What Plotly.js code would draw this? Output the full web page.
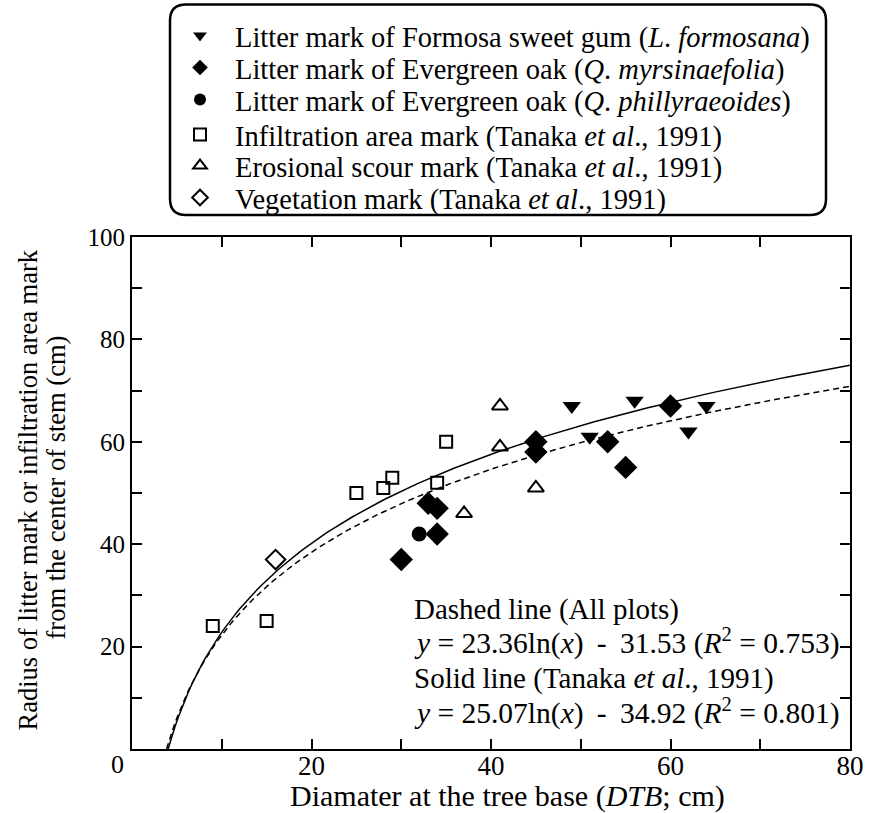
<!DOCTYPE html>
<html>
<head>
<meta charset="utf-8">
<script src="https://cdn.plot.ly/plotly-3.0.1.min.js"></script>
<style>html,body{margin:0;padding:0;background:#fff;}</style>
</head>
<body>
<div id="chart" style="width:869px;height:813px;"></div>
<script>
// ---- Data ----
const formosaX = [49, 51, 56, 62, 64];
const formosaY = [67, 61, 68, 62, 67];

const myrsX = [30, 33, 34, 34, 45, 45, 53, 55, 60];
const myrsY = [37, 48, 47, 42, 60, 58, 60, 55, 67];

const phillX = [32];
const phillY = [42];

const infilX = [9, 15, 25, 28, 29, 34, 35];
const infilY = [24, 25, 50, 51, 53, 52, 60];

const erosX = [37, 41, 41, 45];
const erosY = [46, 67, 59, 51];

const vegX = [16];
const vegY = [37];

// Regression coefficients shown on the chart: y = a ln(x) + b
const dashedA = 23.36, dashedB = -31.53;
const solidA = 25.07, solidB = -34.92;

const xTickVals = [10, 20, 30, 40, 50, 60, 70, 80];
const xTickText = ['', '20', '', '40', '', '60', '', '80'];
const yTickVals = [10, 20, 30, 40, 50, 60, 70, 80, 90, 100];
const yTickText = ['', '20', '', '40', '', '60', '', '80', '', '100'];

// fitted curves from the stated equations
function curve(a, b) {
  const x0 = Math.exp(-b / a);
  const xs = [], ys = [];
  const n = 200;
  for (let i = 0; i <= n; i++) {
    const x = x0 + (80 - x0) * i / n;
    xs.push(x);
    ys.push(a * Math.log(x) + b);
  }
  return {xs, ys};
}
const dc = curve(dashedA, dashedB);
const sc = curve(solidA, solidB);

const FONT = 'Liberation Serif';

const traces = [
  {x: dc.xs, y: dc.ys, mode: 'lines', line: {color: '#000', width: 1.5, dash: '6px,4px'}, showlegend: false, hoverinfo: 'skip'},
  {x: sc.xs, y: sc.ys, mode: 'lines', line: {color: '#000', width: 1.5}, showlegend: false, hoverinfo: 'skip'},
  {x: formosaX, y: formosaY, mode: 'markers', name: 'Litter mark of Formosa sweet gum (<i>L</i>. <i>formosana</i>)',
   legend: 'legend', marker: {symbol: 'triangle-down', size: 16, color: '#000'}},
  {x: myrsX, y: myrsY, mode: 'markers', name: 'Litter mark of Evergreen oak (<i>Q</i>. <i>myrsinaefolia</i>)',
   legend: 'legend2', marker: {symbol: 'diamond', size: 18, color: '#000'}},
  {x: phillX, y: phillY, mode: 'markers', name: 'Litter mark of Evergreen oak (<i>Q</i>. <i>phillyraeoides</i>)',
   legend: 'legend3', marker: {symbol: 'circle', size: 15, color: '#000'}},
  {x: infilX, y: infilY, mode: 'markers', name: 'Infiltration area mark (Tanaka <i>et al</i>., 1991)',
   legend: 'legend4', marker: {symbol: 'square-open', size: 12, color: '#000', line: {width: 2, color: '#000'}}},
  {x: erosX, y: erosY, mode: 'markers', name: 'Erosional scour mark (Tanaka <i>et al</i>., 1991)',
   legend: 'legend5', marker: {symbol: 'triangle-up-open', size: 14, color: '#000', line: {width: 2, color: '#000'}}},
  {x: vegX, y: vegY, mode: 'markers', name: 'Vegetation mark (Tanaka <i>et al</i>., 1991)',
   legend: 'legend6', marker: {symbol: 'diamond-open', size: 15, color: '#000', line: {width: 2, color: '#000'}}}
];

// pixel -> paper helpers
const L = 132, R = 850, T = 236, B = 749;
const W = R - L, H = B - T;
function px(x) { return (x - L) / W; }
function py(y) { return (B - y) / H; }

// legend box (rounded)
const bx0 = 170, bx1 = 826, by0 = 3, by1 = 214, rad = 16;
const boxPath =
  `M ${px(bx0 + rad)} ${py(by0)} L ${px(bx1 - rad)} ${py(by0)} Q ${px(bx1)} ${py(by0)} ${px(bx1)} ${py(by0 + rad)} ` +
  `L ${px(bx1)} ${py(by1 - rad)} Q ${px(bx1)} ${py(by1)} ${px(bx1 - rad)} ${py(by1)} ` +
  `L ${px(bx0 + rad)} ${py(by1)} Q ${px(bx0)} ${py(by1)} ${px(bx0)} ${py(by1 - rad)} ` +
  `L ${px(bx0)} ${py(by0 + rad)} Q ${px(bx0)} ${py(by0)} ${px(bx0 + rad)} ${py(by0)} Z`;

const legendRowsY = [36, 68, 100, 135, 166, 198];
function legendAt(rowY) {
  return {
    x: px(165), y: py(rowY), xanchor: 'left', yanchor: 'middle',
    bgcolor: 'rgba(0,0,0,0)', borderwidth: 0,
    font: {family: FONT, size: 28.5, color: '#000'},
    itemwidth: 60, itemsizing: 'constant', itemclick: false
  };
}

const layout = {
  width: 869, height: 813,
  margin: {l: L, r: 869 - R, t: T, b: 813 - B},
  paper_bgcolor: '#fff', plot_bgcolor: '#fff',
  font: {family: FONT, size: 25, color: '#000'},
  showlegend: true,
  legend: legendAt(legendRowsY[0]),
  legend2: legendAt(legendRowsY[1]),
  legend3: legendAt(legendRowsY[2]),
  legend4: legendAt(legendRowsY[3]),
  legend5: legendAt(legendRowsY[4]),
  legend6: legendAt(legendRowsY[5]),
  xaxis: {
    range: [0, 80], showline: true, linewidth: 2, linecolor: '#000', mirror: 'ticks',
    ticks: 'inside', ticklen: 10, tickwidth: 2, tickcolor: '#000',
    tickvals: xTickVals, ticktext: xTickText, showgrid: false, zeroline: false,
    tickfont: {family: FONT, size: 27}, ticklabelstandoff: -8
  },
  yaxis: {
    range: [0, 100], showline: true, linewidth: 2, linecolor: '#000', mirror: 'ticks',
    ticks: 'inside', ticklen: 10, tickwidth: 2, tickcolor: '#000',
    tickvals: yTickVals, ticktext: yTickText, showgrid: false, zeroline: false,
    tickfont: {family: FONT, size: 25}
  },
  shapes: [
    {type: 'path', xref: 'paper', yref: 'paper', path: boxPath, line: {color: '#000', width: 2.5}, fillcolor: 'rgba(0,0,0,0)'}
  ],
  annotations: [
    {xref: 'paper', yref: 'paper', x: px(117), y: py(765), text: '0', showarrow: false, xanchor: 'center', yanchor: 'middle', font: {family: FONT, size: 26}},
    // axis titles
    {xref: 'paper', yref: 'paper', x: px(507), y: py(796), text: 'Diamater at the tree base (<i>DTB</i>; cm)', showarrow: false, xanchor: 'center', yanchor: 'middle', font: {family: FONT, size: 30}},
    {xref: 'paper', yref: 'paper', x: px(28), y: py(490), text: 'Radius of litter mark or infiltration area mark', textangle: -90, showarrow: false, xanchor: 'center', yanchor: 'middle', font: {family: FONT, size: 26.5}},
    {xref: 'paper', yref: 'paper', x: px(56), y: py(487), text: 'from the center of stem (cm)', textangle: -90, showarrow: false, xanchor: 'center', yanchor: 'middle', font: {family: FONT, size: 26.5}},
    // fit annotations
    {xref: 'paper', yref: 'paper', x: px(412), y: py(609), text: 'Dashed line (All plots)', showarrow: false, xanchor: 'left', yanchor: 'middle', font: {family: FONT, size: 29}},
    {xref: 'paper', yref: 'paper', x: px(412), y: py(641), text: '<i>y</i> = 23.36ln(<i>x</i>) \u2009-\u2009 31.53 (<i>R</i><sup>2</sup> = 0.753)', showarrow: false, xanchor: 'left', yanchor: 'middle', font: {family: FONT, size: 29.5}},
    {xref: 'paper', yref: 'paper', x: px(412), y: py(678), text: 'Solid line (Tanaka <i>et al</i>., 1991)', showarrow: false, xanchor: 'left', yanchor: 'middle', font: {family: FONT, size: 29}},
    {xref: 'paper', yref: 'paper', x: px(412), y: py(711), text: '<i>y</i> = 25.07ln(<i>x</i>) \u2009-\u2009 34.92 (<i>R</i><sup>2</sup> = 0.801)', showarrow: false, xanchor: 'left', yanchor: 'middle', font: {family: FONT, size: 29.5}}
  ]
};

Plotly.newPlot('chart', traces, layout, {staticPlot: true, displayModeBar: false});
</script>
</body>
</html>
